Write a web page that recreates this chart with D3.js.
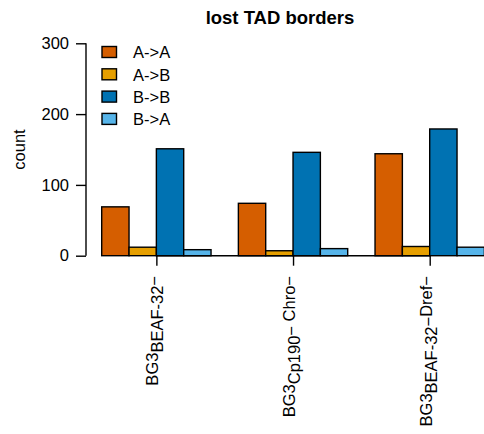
<!DOCTYPE html>
<html>
<head>
<meta charset="utf-8">
<script src="https://cdn.jsdelivr.net/npm/d3@7"></script>
<style>
  html, body { margin: 0; padding: 0; background: #fff; }
  svg { display: block; font-family: "Liberation Sans", Arial, Helvetica, sans-serif; }
</style>
</head>
<body>
<svg id="chart" width="484" height="434"></svg>
<script>
// ---- data ----
const groups = ["g1", "g2", "g3"];
// label parts: [text, kind] where kind: "base" | "sub" | "sup"
const groupLabels = [
  [["BG3", "base"], ["BEAF-32", "sub"], ["\u2212", "sup"]],
  [["BG3", "base"], ["Cp190", "sub"], ["\u2212", "sup"], ["\u00a0Chro\u2212", "base"]],
  [["BG3", "base"], ["BEAF-32", "sub"], ["\u2212", "sup"], ["Dref\u2212", "base"]]
];
const series = ["A->A", "A->B", "B->B", "B->A"];
const colors = ["#D55E00", "#E69F00", "#0072B2", "#56B4E9"];
const valuesAA = [69, 74, 144];
const valuesAB = [12, 7, 13];
const valuesBB = [151, 146, 179];
const valuesBA = [8.5, 10, 12];
const yTicks = [0, 100, 200, 300];
const title = "lost TAD borders";
const yTitle = "count";

const seriesValues = [valuesAA, valuesAB, valuesBB, valuesBA];

// ---- layout ----
const svg = d3.select("#chart");
const x0 = d3.scaleBand().domain(groups).range([74.37, 511.7]).paddingInner(0.2).paddingOuter(0.2);
const x1 = d3.scaleBand().domain(series).range([0, x0.bandwidth()]).padding(0);
const y = d3.scaleLinear().domain([0, 300]).range([255.7, 43.3]);
const color = d3.scaleOrdinal().domain(series).range(colors);

// title
svg.append("text")
  .attr("x", 280).attr("y", 24)
  .attr("text-anchor", "middle")
  .attr("font-weight", "bold")
  .attr("font-size", 18.5)
  .text(title);

// bars
const rows = [];
groups.forEach((g, gi) => series.forEach((s, si) => rows.push({ g, s, v: seriesValues[si][gi] })));
svg.append("g").selectAll("rect").data(rows).join("rect")
  .attr("x", d => x0(d.g) + x1(d.s))
  .attr("y", d => y(d.v))
  .attr("width", x1.bandwidth())
  .attr("height", d => y(0) - y(d.v))
  .attr("fill", d => color(d.s))
  .attr("stroke", "#000")
  .attr("stroke-width", 1.4);

// y axis
const yAxis = svg.append("g").attr("transform", "translate(86,0)")
  .call(d3.axisLeft(y).tickValues(yTicks).tickSize(10).tickPadding(7).tickFormat(d3.format("d")));
yAxis.select(".domain").attr("d", `M0,${y(300)}V${y(0)}`).attr("stroke-width", 1.4);
yAxis.selectAll(".tick line").attr("stroke-width", 1.4);
yAxis.selectAll("text").attr("font-size", 16.5).attr("fill", "#000")
  .attr("font-family", "Liberation Sans, Arial, sans-serif");

svg.append("text")
  .attr("transform", `translate(25,${(y(0) + y(300)) / 2}) rotate(-90)`)
  .attr("text-anchor", "middle")
  .attr("font-size", 16.5)
  .text(yTitle);

// x axis
const xCenter = g => x0(g) + x0.bandwidth() / 2;
const xAxis = svg.append("g").attr("transform", `translate(0,${y(0)})`)
  .call(d3.axisBottom(d3.scalePoint().domain(groups).range([xCenter(groups[0]), xCenter(groups[2])]))
    .tickSize(10).tickFormat(""));
xAxis.select(".domain").attr("d", `M${xCenter(groups[0])},0H${xCenter(groups[2])}`).attr("stroke-width", 1.4);
xAxis.selectAll(".tick line").attr("stroke-width", 1.4);

// x labels (rotated)
groups.forEach((g, gi) => {
  const t = svg.append("text")
    .attr("transform", `translate(${xCenter(g) + 1.8},276) rotate(-90)`)
    .attr("text-anchor", "end")
    .attr("font-size", 16.5);
  let cur = 0;
  groupLabels[gi].forEach(([txt, kind]) => {
    const target = kind === "sub" ? 5 : kind === "sup" ? 2 : 0;
    t.append("tspan").attr("dy", target - cur).text(txt);
    cur = target;
  });
});

// legend
const leg = svg.append("g");
series.forEach((s, i) => {
  const row = leg.append("g").attr("transform", `translate(0,${i * 22.3})`);
  row.append("rect")
    .attr("x", 102).attr("y", 46.5).attr("width", 14.5).attr("height", 11)
    .attr("fill", color(s)).attr("stroke", "#000").attr("stroke-width", 1.4);
  row.append("text")
    .attr("x", 133).attr("y", 58.3)
    .attr("font-size", 16.5)
    .text(s);
});
</script>
</body>
</html>
